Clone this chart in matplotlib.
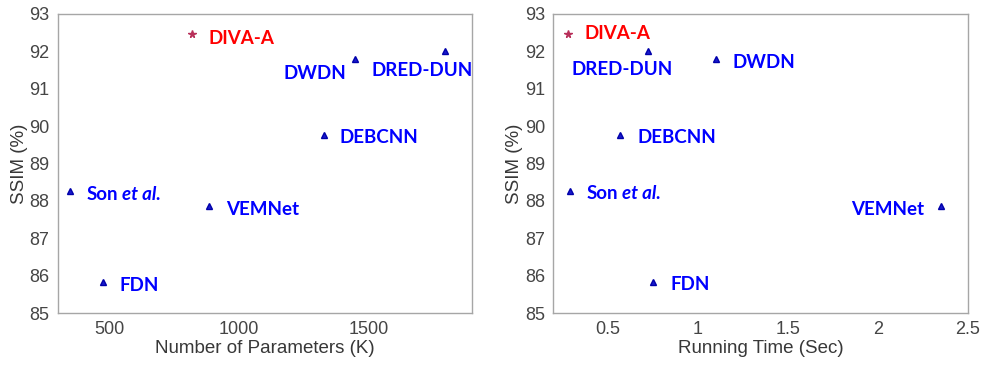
import matplotlib.pyplot as plt

# SSIM vs model size and speed for the compared deblurring networks
models = ["DIVA-A", "DWDN", "DRED-DUN", "DEBCNN", "Son", "VEMNet", "FDN"]
params_k = [820, 1449, 1794, 1327, 346, 885, 473]
run_time = [0.282, 1.10, 0.725, 0.57, 0.295, 2.349, 0.753]
ssim = [92.46, 91.8, 92.0, 89.77, 88.27, 87.85, 85.84]

# label placement (pixels from the marker, horizontal alignment)
offs_left = {
    "DIVA-A": (16, -4, "left"), "DWDN": (-9, -15, "right"),
    "DRED-DUN": (-22, -19, "center"), "DEBCNN": (16, -3, "left"),
    "Son": (17, -4, "left"), "VEMNet": (17, -3, "left"), "FDN": (17, -4, "left"),
}
offs_right = {
    "DIVA-A": (16, 1, "left"), "DWDN": (17, -4, "left"),
    "DRED-DUN": (-26, -18, "center"), "DEBCNN": (17, -3, "left"),
    "Son": (16, -3, "left"), "VEMNet": (-17, -3, "right"), "FDN": (17, -3, "left"),
}

spine_c = "#a6a6a6"
tick_c = "#454545"
lab_font = dict(family="Lato", weight="bold", size=13.5)

fig = plt.figure(figsize=(9.84, 3.71), dpi=100)
ax1 = fig.add_axes([0.0589, 0.1563, 0.4207, 0.806])
ax2 = fig.add_axes([0.5623, 0.1563, 0.4214, 0.806])


def draw(ax, xs, offs, xlim, xticks, xticklabels, xlabel):
    for name, x, y in zip(models, xs, ssim):
        if name == "DIVA-A":
            ax.plot(x, y, "*", color="#b8305a", ms=5.5, mec="#b8305a")
            col = "red"
        else:
            ax.plot(x, y, "^", color="#1a1acc", ms=5, mec="#0000aa")
            col = "blue"
        dx, dy, ha = offs[name]
        t = ax.annotate(name, (x, y), xytext=(dx, dy), textcoords="offset pixels",
                        ha=ha, va="center", color=col, **lab_font)
        if name == "Son":
            ax.annotate("et al.", xy=(1, 0), xycoords=t, xytext=(4, 0),
                        textcoords="offset pixels", ha="left", va="bottom",
                        color=col, style="italic", **lab_font)
    ax.set_xlim(*xlim)
    ax.set_ylim(85, 93)
    ax.set_xticks(xticks)
    ax.set_xticklabels(xticklabels)
    ax.set_yticks(range(85, 94))
    ax.tick_params(direction="in", length=0, labelcolor=tick_c,
                   labelsize=13, pad=6)
    for lbl in ax.get_xticklabels() + ax.get_yticklabels():
        lbl.set_family("Liberation Sans")
    for s in ax.spines.values():
        s.set_color(spine_c)
        s.set_linewidth(1.0)
    ax.set_xlabel(xlabel, fontsize=13.5, color="#383838", family="Liberation Sans", labelpad=1)
    ax.set_ylabel("SSIM (%)", fontsize=13.5, color="#383838", family="Liberation Sans", labelpad=1)


draw(ax1, params_k, offs_left, (300, 1900), [500, 1000, 1500],
     ["500", "1000", "1500"], "Number of Parameters (K)")
draw(ax2, run_time, offs_right, (0.2, 2.5), [0.5, 1, 1.5, 2, 2.5],
     ["0.5", "1", "1.5", "2", "2.5"], "Running Time (Sec)")

fig.savefig("out.png", dpi=100)
